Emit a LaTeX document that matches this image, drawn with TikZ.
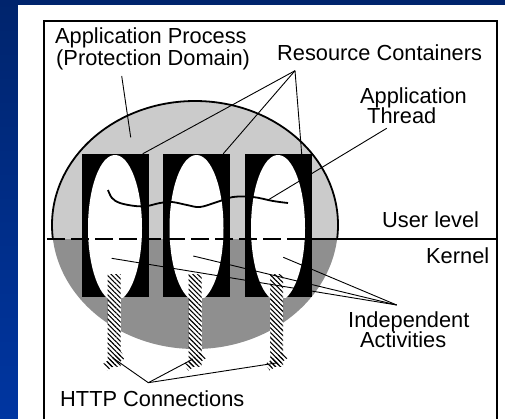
\documentclass[tikz,border=0pt]{standalone}
\usepackage{fontspec}
\setmainfont{Liberation Sans}
\usetikzlibrary{patterns.meta}
\definecolor{navytop}{HTML}{00246C}
\definecolor{navybot}{HTML}{0036A2}
\definecolor{userfill}{HTML}{CBCBCB}
\definecolor{kernelfill}{HTML}{8F8F8F}
\tikzset{
  lbl/.style={inner sep=0pt, anchor=base west, font=\fontsize{21.8}{22}\selectfont},
  leader/.style={line width=0.9pt, black},
  container/.style={fill=black, draw=none, minimum width=67pt, minimum height=143pt, inner sep=0pt},
  hatch/.style={pattern={Lines[angle=-45,distance=3.4pt,line width=1.1pt]}, pattern color=black},
  strip/.style={hatch, preaction={fill=white}, draw=none, minimum width=13pt, minimum height=92pt, inner sep=0pt},
}
\begin{document}
\begin{tikzpicture}[x=1pt,y=-1pt]
\useasboundingbox (0,0) rectangle (505,418);
% slide background and white panel (run past the page edge)
\shade[top color=navytop, bottom color=navybot] (-5,-5) rectangle (510,425);
\fill[white] (18,5) rectangle (510,425);
\draw[line width=2.5pt] (44,21) rectangle (497,440);

% protection domain: user half and kernel half
\begin{scope}
\clip (0,0) rectangle (505,239);
\fill[userfill] (195,225) ellipse [x radius=143pt, y radius=124pt];
\draw[line width=1.8pt] (195,225) ellipse [x radius=143pt, y radius=124pt];
\end{scope}
\begin{scope}
\clip (0,239) rectangle (505,418);
\fill[kernelfill] (195,225) ellipse [x radius=143pt, y radius=124pt];
\end{scope}

% resource containers with their activities
\foreach \n/\cx in {1/115, 2/196.5, 3/278} {
  \node[container] (c\n) at (\cx,225.5) {};
  \begin{scope}
    \clip (c\n.south west) rectangle (c\n.north east);
    \fill[white] ([yshift=-2.5pt]c\n.center) ellipse [x radius=27pt, y radius=73pt];
  \end{scope}
}

% user/kernel boundary
\coordinate (bl) at (47,239);
\coordinate (bm) at (313,239);
\coordinate (br) at (497,239);
\draw[line width=2.4pt, dash pattern=on 18pt off 6pt] (bl) -- (bm);
\draw[line width=1.8pt] (bm) -- (br);

% HTTP connections
\foreach \n/\cx in {1/114, 2/195, 3/276.5} {
  \node[strip] (h\n) at (\cx,320) {};
  \path[hatch, rotate around={35:(\cx,361)}] (\cx-11,357) rectangle (\cx+11,365);
}

% application thread
\draw[line width=1.8pt] plot[smooth, tension=0.6] coordinates {
  (108,190) (112,198) (120,203) (135,206) (147,206) (160,203) (172,202)
  (187,205) (200,207) (217,202) (233,197) (253,197) (273,201) (288,203)};

% labels
\node[lbl] (ap1) at (55,43) {Application Process};
\node[lbl] (ap2) at (56,65.5) {(Protection Domain)};
\node[lbl] (rc) at (277,60) {Resource Containers};
\node[lbl] (at1) at (360,103) {Application};
\node[lbl] (at2) at (367,123) {Thread};
\node[lbl] (ul) at (382,227) {User level};
\node[lbl] (kn) at (426,263) {Kernel};
\node[lbl] (ia1) at (348,327) {Independent};
\node[lbl] (ia2) at (360,347) {Activities};
\node[lbl] (hc) at (60,406) {HTTP Connections};

% leader lines
\coordinate (apS) at (121.7,76);
\coordinate (apE) at (130.7,137.3);
\draw[leader] (apS) -- (apE);

\coordinate (rcT) at (295,70.7);
\draw[leader] (rcT) -- ([xshift=-6pt]c1.north east);
\draw[leader] (rcT) -- ([xshift=-7pt]c2.north east);
\draw[leader] (rcT) -- ([xshift=-10pt]c3.north east);

\coordinate (atS) at (386.7,128.3);
\coordinate (atE) at (268,200);
\draw[leader] (atS) -- (atE);

\coordinate (iaT) at (396.7,305);
\coordinate (ia1E) at (111.7,258.3);
\coordinate (ia2E) at (193.3,256);
\coordinate (ia3E) at (283.3,257.3);
\draw[leader] (iaT) -- (ia1E);
\draw[leader] (iaT) -- (ia2E);
\draw[leader] (iaT) -- (ia3E);

\coordinate (hcT) at (148.3,382.7);
\coordinate (hc1E) at (113,358);
\coordinate (hc2E) at (193,359);
\coordinate (hc3E) at (276,363);
\draw[leader] (hcT) -- (hc1E);
\draw[leader] (hcT) -- (hc2E);
\draw[leader] (hcT) -- (hc3E);
\end{tikzpicture}
\end{document}
